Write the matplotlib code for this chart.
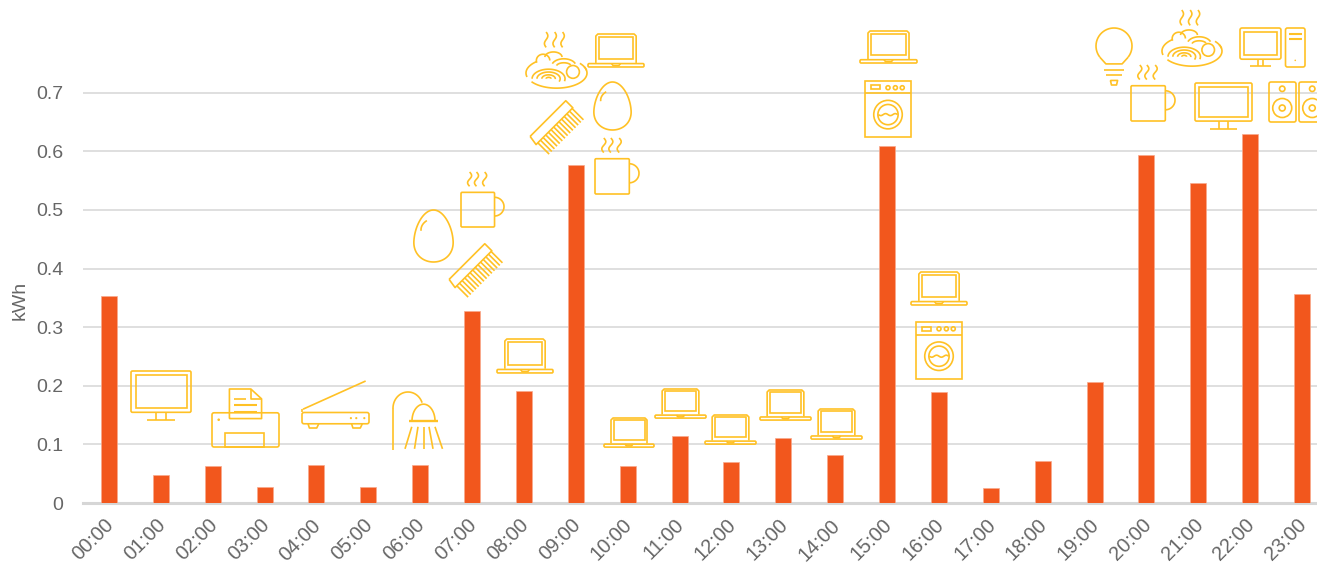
import numpy as np
import matplotlib
matplotlib.use("Agg")
import matplotlib.pyplot as plt
from matplotlib.patches import FancyBboxPatch, Circle, Rectangle
from matplotlib.transforms import ScaledTranslation

plt.rcParams['font.family'] = ['Liberation Sans', 'DejaVu Sans']

hours = ["%02d:00" % h for h in range(24)]
kwh = [0.353, 0.048, 0.063, 0.027, 0.065, 0.027, 0.065, 0.328, 0.191, 0.577, 0.063, 0.114,
       0.070, 0.111, 0.082, 0.609, 0.189, 0.026, 0.072, 0.206, 0.594, 0.546, 0.630, 0.357]
y_ticks = [0, 0.1, 0.2, 0.3, 0.4, 0.5, 0.6, 0.7]
y_labels = ["0", "0.1", "0.2", "0.3", "0.4", "0.5", "0.6", "0.7"]

W, H = 1317, 564
BAR = "#F2571D"
GRID = "#D6D6D6"
TXT = "#666666"
ICON = "#FFC125"
LW = 1.2

fig = plt.figure(figsize=(W / 100, H / 100), dpi=100)
ax = fig.add_axes([83 / W, (H - 503) / H, (W - 83) / W, 503 / H])
step = 51.87
ax.bar(range(24), kwh, width=16 / step, color=BAR, edgecolor="#F9A98C", linewidth=0.5, zorder=3)
ax.set_xlim(-0.5, (W - 109) / step)
ax.set_ylim(0, 503 / 586)
ax.set_yticks(y_ticks)
ax.set_yticklabels(y_labels)
ax.set_xticks(range(24))
ax.set_xticklabels(hours, rotation=45, ha="right", rotation_mode="anchor")
ax.tick_params(axis="y", length=0, pad=14, labelsize=14, labelcolor=TXT)
ax.tick_params(axis="x", length=0, pad=9, labelsize=14.4, labelcolor=TXT)
for lab in ax.get_xticklabels():
    lab.set_transform(lab.get_transform() + ScaledTranslation(-5 / 100, 0, fig.dpi_scale_trans))
ax.grid(axis="y", color=GRID, linewidth=1.1, zorder=0)
ax.set_axisbelow(True)
for s in ax.spines.values():
    s.set_visible(False)
ax.axhline(0, color=GRID, linewidth=2.2, zorder=1, clip_on=False)
fig.text(20 / W, 1 - 300 / H, "kWh", rotation=90, color=TXT, fontsize=14, ha="center", va="center")

# icons live on a second axes that counts in image pixels
ic = fig.add_axes([0, 0, 1, 1], facecolor="none")
ic.set_xlim(0, W)
ic.set_ylim(H, 0)
ic.axis("off")


def line(xs, ys, lw=LW):
    ic.plot(xs, ys, color=ICON, lw=lw, solid_capstyle="butt", solid_joinstyle="round")


def rrect(x, y, w, h, r=1.5):
    ic.add_patch(FancyBboxPatch((x, y), w, h, boxstyle="round,pad=0,rounding_size=%g" % r,
                                fc="none", ec=ICON, lw=LW))


def circ(x, y, r):
    ic.add_patch(Circle((x, y), r, fc="none", ec=ICON, lw=LW))


def arc(x, y, rx, ry, a0, a1):
    t = np.radians(np.linspace(a0, a1, 40))
    line(x + rx * np.cos(t), y - ry * np.sin(t))


def steam(x, y0, y1, amp=2.0):
    t = np.linspace(0, 1, 25)
    line(x + amp * np.sin(t * 2 * np.pi), y0 + (y1 - y0) * t)


def monitor(x, y, w, h):
    rrect(x, y, w, h * 0.81)
    rect_in = 0.075 * w
    ic.add_patch(Rectangle((x + rect_in, y + 0.085 * h), w - 2 * rect_in, h * 0.64, fc="none", ec=ICON, lw=LW))
    line([x + .42 * w, x + .42 * w], [y + .81 * h, y + .97 * h])
    line([x + .58 * w, x + .58 * w], [y + .81 * h, y + .97 * h])
    line([x + .27 * w, x + .73 * w], [y + .97 * h, y + .97 * h])


def laptop(x, y, w, h):
    sx0, sx1 = x + .14 * w, x + .86 * w
    line([sx0, sx0, sx0 + 2, sx1 - 2, sx1, sx1], [y + .85 * h, y + 2, y, y, y + 2, y + .85 * h])
    ic.add_patch(Rectangle((x + .19 * w, y + .08 * h), .62 * w, .66 * h, fc="none", ec=ICON, lw=LW))
    rrect(x, y + .87 * h, w, .1 * h, 1.2)
    line([x + .42 * w, x + .45 * w, x + .55 * w, x + .58 * w],
         [y + .87 * h, y + .93 * h, y + .93 * h, y + .87 * h])


def printer(x, y, w, h):
    rrect(x, y + .41 * h, w, .59 * h, 2)
    line([x + .26 * w, x + .26 * w, x + .58 * w, x + .74 * w, x + .74 * w, x + .26 * w],
         [y + .51 * h, y, y, y + .17 * h, y + .51 * h, y + .51 * h])
    line([x + .58 * w, x + .58 * w, x + .74 * w], [y, y + .17 * h, y + .17 * h])
    line([x + .33 * w, x + .5 * w], [y + .18 * h, y + .18 * h])
    line([x + .33 * w, x + .67 * w], [y + .28 * h, y + .28 * h], 1.5)
    line([x + .33 * w, x + .67 * w], [y + .39 * h, y + .39 * h], 1.5)
    ic.add_patch(Rectangle((x + .2 * w, y + .75 * h), .58 * w, .25 * h, fc="none", ec=ICON, lw=LW))
    ic.add_patch(Circle((x + .1 * w, y + .53 * h), 1.3, fc=ICON, ec="none"))


def scanner(x, y, w, h):
    line([x + 1, x + .95 * w], [y + .6 * h, y])
    line([x, x], [y + .67 * h, y + .6 * h])
    rrect(x, y + .67 * h, w, .24 * h, 2)
    line([x + .09 * w, x + .11 * w, x + .22 * w, x + .25 * w], [y + .91 * h, y + h, y + h, y + .91 * h])
    line([x + .74 * w, x + .76 * w, x + .87 * w, x + .9 * w], [y + .91 * h, y + h, y + h, y + .91 * h])
    for u in [.73, .81, .93]:
        ic.add_patch(Circle((x + u * w, y + .79 * h), 1.1, fc=ICON, ec="none"))


def shower(x, y, w, h):
    line([x, x], [y + h, y + .28 * h])
    arc(x + .3 * w, y + .28 * h, .3 * w, .28 * h, 20, 180)
    arc(x + .61 * w, y + .5 * h, .23 * w, .29 * h, 0, 180)
    line([x + .32 * w, x + .9 * w], [y + .5 * h, y + .5 * h], 1.7)
    for u0, u1 in [(.375, .24), (.5, .43), (.62, .62), (.72, .8), (.84, .99)]:
        line([x + u0 * w, x + u1 * w], [y + .6 * h, y + .98 * h])


def mug(x, y, w, h):
    rrect(x, y + .37 * h, .78 * w, .63 * h, 1.2)
    arc(x + .78 * w, y + .63 * h, .22 * w, .17 * h, -90, 90)
    for u in [.2, .36, .55]:
        steam(x + u * w, y, y + .26 * h)


def egg(x, y, w, h):
    t = np.linspace(0, 2 * np.pi, 100)
    ex = x + w / 2 + (w / 2) * np.cos(t) * (1 - 0.13 * np.sin(t))
    ey = y + h * .57 - np.where(np.sin(t) > 0, h * .57, h * .43) * np.sin(t)
    line(ex, ey)
    arc(x + .6 * w, y + .38 * h, .42 * w, .23 * h, 130, 185)


def comb(x, y):
    a = np.array([.707, -.707])
    b = np.array([.707, .707])
    o = np.array([x, y + 36.5])
    L, T, N = 52, 10, 26
    p = [o + .03 * L * a, o + L * a, o + L * a + T * b, o + T * b, o + .03 * L * a]
    line([q[0] for q in p], [q[1] for q in p])
    for s in np.linspace(2.5, L - 1, 14):
        q0 = o + s * a + T * b
        q1 = o + s * a + N * b
        line([q0[0], q1[0]], [q0[1], q1[1]])


def pasta(x, y, w, h):
    for u in [.33, .47, .6]:
        steam(x + u * w, y, y + .27 * h, 1.7)
    cx, cy = x + .5 * w, y + .72 * h
    arc(cx, cy, .5 * w, .265 * h, 215, 385)
    arc(cx, cy, .5 * w, .265 * h, 130, 195)
    arc(cx, cy, .5 * w, .265 * h, 10, 40)
    sx, sy = x + .37 * w, y + .82 * h
    for r, a0 in [(.27, -15), (.19, -25), (.11, -5), (.04, 0)]:
        arc(sx, sy, r * w, r * h * .62, a0, 180)
    circ(x + .77 * w, y + .7 * h, .105 * w)
    arc(x + .28 * w, y + .5 * h, .11 * w, .11 * h, 0, 200)
    arc(x + .45 * w, y + .44 * h, .14 * w, .09 * h, 0, 180)
    arc(x + .62 * w, y + .6 * h, .2 * w, .13 * h, 20, 160)
    arc(x + .62 * w, y + .6 * h, .12 * w, .06 * h, 20, 170)


def washer(x, y, w, h):
    ic.add_patch(Rectangle((x, y), w, h, fc="none", ec=ICON, lw=LW))
    line([x, x + w], [y + .22 * h, y + .22 * h])
    ic.add_patch(Rectangle((x + .13 * w, y + .08 * h), .2 * w, .07 * h, fc="none", ec=ICON, lw=LW))
    for u in [.5, .66, .81]:
        circ(x + u * w, y + .12 * h, 2)
    cx, cy = x + .5 * w, y + .6 * h
    circ(cx, cy, .31 * w)
    circ(cx, cy, .22 * w)
    t = np.linspace(-1, 1, 30)
    line(cx + t * .21 * w, cy + np.sin(t * 2 * np.pi))


def bulb(x, y, w, h):
    cx = x + w / 2
    r = w / 2
    arc(cx, y + r, r, r, -38, 218)
    line([cx - r * .79, cx - r * .45, cx + r * .45, cx + r * .79],
         [y + r * 1.62, y + .63 * h, y + .63 * h, y + r * 1.62])
    line([cx - .27 * w, cx + .27 * w], [y + .73 * h, y + .73 * h])
    line([cx - .22 * w, cx + .22 * w], [y + .83 * h, y + .83 * h])
    line([cx - .1 * w, cx + .1 * w, cx + .07 * w, cx - .07 * w, cx - .1 * w],
         [y + .92 * h, y + .92 * h, y + h, y + h, y + .92 * h])


def desktop(x, y, w, h):
    rrect(x, y, .63 * w, .8 * h, 2)
    ic.add_patch(Rectangle((x + .06 * w, y + .1 * h), .51 * w, .6 * h, fc="none", ec=ICON, lw=LW))
    line([x + .27 * w, x + .27 * w], [y + .8 * h, y + .98 * h])
    line([x + .36 * w, x + .36 * w], [y + .8 * h, y + .98 * h])
    line([x + .15 * w, x + .48 * w], [y + .98 * h, y + .98 * h])
    rrect(x + .7 * w, y, .3 * w, h, 2)
    line([x + .75 * w, x + .95 * w], [y + .16 * h, y + .16 * h], 1.5)
    line([x + .75 * w, x + .95 * w], [y + .28 * h, y + .28 * h], 1.5)
    ic.add_patch(Circle((x + .85 * w, y + .83 * h), .8, fc=ICON, ec="none"))


def speaker(x, y, w, h):
    rrect(x, y, w, h, 2)
    circ(x + .49 * w, y + .17 * h, 2.7)
    circ(x + .49 * w, y + .65 * h, 9.5)
    circ(x + .49 * w, y + .65 * h, 3)


monitor(131, 371, 60, 51)
monitor(1195, 83, 57, 47)
printer(212, 389, 67, 58)
scanner(302, 381, 67, 47)
shower(393, 392, 50, 58)
for box in [(497, 339, 56, 35), (604, 418, 50, 30), (655, 389, 51, 30), (705, 415, 51, 30), (760, 390, 51, 31),
            (811, 409, 51, 31), (588, 34, 56, 34), (860, 31, 57, 33), (911, 272, 56, 34)]:
    laptop(*box)
for box in [(461, 172, 43, 55), (595, 138, 44, 56), (1131, 65, 44, 56)]:
    mug(*box)
egg(414, 210, 39, 52)
egg(594, 82, 37, 48)
comb(448, 244)
comb(529, 101)
pasta(526, 32, 61, 57)
pasta(1162, 10, 60, 57)
washer(865, 81, 46, 56)
washer(916, 322, 46, 57)
bulb(1096, 28, 36, 57)
desktop(1240, 28, 65, 39)
speaker(1269, 82, 27, 40)
speaker(1299, 82, 27, 40)

fig.savefig("out.png", dpi=100)
